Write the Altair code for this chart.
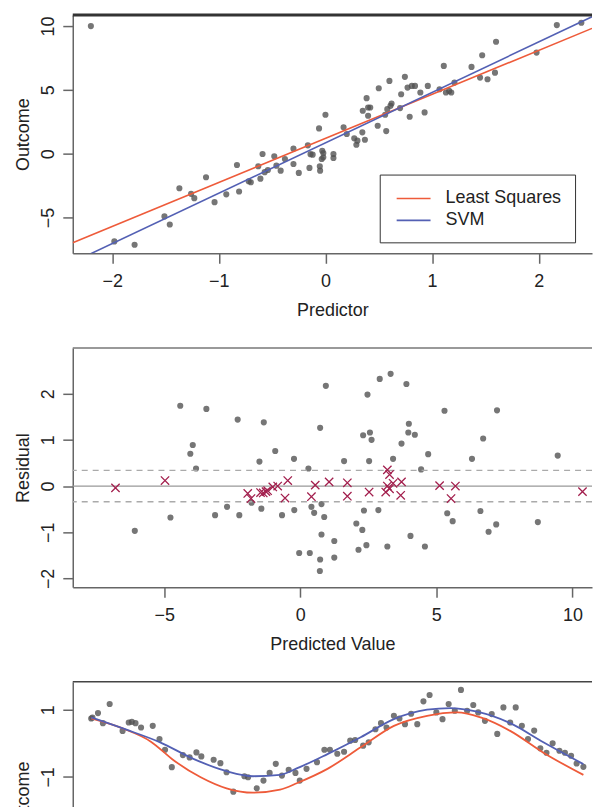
import altair as alt
import pandas as pd

FONT = "Liberation Sans"
GRAY = "#505050"
RED = "#EE5B3A"
BLUE = "#5360B4"
CRIMSON = "#A3204E"
TXT = "#222222"

# ---------------- Panel 1: predictor vs outcome ----------------
p1_x = [-2.20, -1.98, -1.79, -1.51, -1.46, -1.37, -1.26, -1.23, -1.12, -1.04,
        -0.93, -0.83, -0.81, -0.72, -0.70, -0.63, -0.61, -0.59, -0.57, -0.54,
        -0.48, -0.46, -0.42, -0.38, -0.30, -0.30, -0.25, -0.165, -0.15, -0.14,
        -0.12, -0.06, -0.053, -0.05, -0.035, -0.02, 0.0,
        -0.03, -0.02, 0.075, 0.075, 0.17, 0.20, 0.27, 0.29, 0.30, 0.346,
        0.35, 0.37, 0.386, 0.40, 0.42, 0.40, 0.49, 0.50, 0.56, 0.57,
        0.58, 0.60, 0.61, 0.62, 0.70, 0.71, 0.745, 0.77, 0.79, 0.81,
        0.84, 0.89, 0.93, 0.96, 1.07, 1.11, 1.13, 1.16, 1.18, 1.21,
        1.37, 1.45, 1.47, 1.52, 1.59, 1.60, 1.98, 2.17, 2.40]
p1_y = [10.0, -6.88, -7.14, -4.92, -5.55, -2.71, -3.15, -3.49, -1.85, -3.80,
        -3.19, -0.89, -2.97, -2.16, -2.24, -0.99, -1.96, -0.03, -1.45, -1.28,
        -0.21, -0.94, -1.33, -0.42, 0.39, -0.81, -1.51, 0.65, -1.12, -0.04,
        -0.08, 1.98, -0.99, -1.33, -0.42, 0.05, 3.05,
        0.23, -0.29, -0.03, -0.34, 2.06, 1.54, 1.20, 0.70, 1.02, 1.67,
        3.36, 1.09, 4.35, 3.62, 3.62, 2.97, 2.19, 5.13, 3.05, 1.77,
        3.49, 5.70, 3.75, 3.93, 3.57, 4.66, 6.02, 5.18, 2.89, 5.31,
        5.31, 4.79, 3.23, 5.31, 5.05, 6.88, 4.79, 4.92, 4.79, 5.57,
        6.80, 5.96, 7.71, 5.83, 6.35, 8.77, 7.92, 10.08, 10.26]

fit_models = ["Least Squares", "SVM"]
ls_x = [-2.37, 2.50]
ls_y = [-6.98, 9.82]
svm_x = [-2.37, 2.50]
svm_y = [-8.51, 10.73]

# ---------------- Panel 2: residuals ----------------
res_x = [-6.08, -4.77, -4.41, -4.04, -3.95, -3.83, -3.45, -3.13, -2.69, -2.30,
         -2.24, -1.79, -1.50, -1.43, -1.34, -0.92, -0.67, -0.23, -0.22, -0.04,
         0.30, 0.35, 0.41, 0.51, 0.73, 0.78, 0.88, 0.78, 0.73, 0.72,
         0.94, 1.25, 1.25, 1.61, 2.06, 2.14, 2.28, 2.31, 2.34, 2.43,
         2.47, 2.53, 2.56, 2.62, 2.87, 2.92, 3.20, 3.32, 3.41, 3.72,
         3.90, 3.99, 3.97, 4.05, 4.21, 4.44, 4.58, 4.70, 5.30, 5.40,
         5.60, 6.31, 6.62, 6.72, 6.92, 7.23, 7.20, 8.73, 9.46]
res_y = [-0.97, -0.68, 1.74, 0.70, 0.89, 0.38, 1.67, -0.63, -0.45, 1.44,
         -0.63, -0.36, 0.53, -0.49, 1.38, 0.76, -0.63, 0.59, -0.52, -1.45,
         0.38, -1.45, -0.45, -0.58, 1.26, -0.39, -0.67, -1.05, -1.59, -1.84,
         2.17, -1.19, -1.55, 0.54, -0.81, -1.38, -0.95, 1.10, -0.53, -1.28,
         1.98, 0.54, 1.16, 1.00, -0.52, 2.32, -1.31, 2.43, 0.59, 0.92,
         2.21, 1.35, 1.16, -1.08, 1.11, 0.36, -1.31, 0.69, 1.63, -0.59,
         -0.76, 0.59, -0.54, 1.03, -0.99, 1.64, -0.83, -0.78, 0.66]
sv_x = [-6.79, -4.97, -1.93, -1.81, -1.46, -1.36, -1.26, -1.20, -1.01, -0.83,
        -0.46, -0.56, 0.41, 0.55, 1.06, 1.73, 1.73, 2.53, 3.20, 3.28,
        3.20, 3.14, 3.28, 3.41, 3.72, 3.69, 5.12, 5.70, 5.54, 10.37]
sv_y = [-0.04, 0.12, -0.16, -0.27, -0.14, -0.15, -0.12, -0.10, -0.02, 0.0,
        0.12, -0.26, -0.23, 0.02, 0.09, 0.07, -0.22, -0.13, 0.35, 0.25,
        0.0, -0.13, -0.06, 0.06, 0.09, -0.20, 0.01, 0.0, -0.27, -0.12]
epsilon_band = [-0.34, 0.34]
zero_line = [0.0]

# ---------------- Panel 3: sine data ----------------
sin_x = [2.00, 2.02, 2.11, 2.19, 2.30, 2.51, 2.61, 2.66, 2.72, 2.81,
         3.00, 3.11, 3.20, 3.31, 3.49, 3.60, 3.71, 3.79, 3.99, 4.10,
         4.20, 4.31, 4.49, 4.55, 4.69, 4.80, 4.90, 5.00, 5.10, 5.21,
         5.32, 5.39, 5.50, 5.67, 5.79, 5.88, 6.00, 6.11, 6.21, 6.29,
         6.42, 6.51, 6.62, 6.71, 6.80, 6.92, 7.01, 7.10, 7.20, 7.30,
         7.40, 7.50, 7.61, 7.71, 7.81, 7.91, 8.01, 8.11, 8.21, 8.29,
         8.40, 8.51, 8.60, 8.70, 8.81, 8.90, 9.00, 9.10, 9.20, 9.30,
         9.40, 9.50, 9.61, 9.70, 9.80, 9.89, 10.00]
sin_y = [0.74, 0.77, 0.90, 0.60, 1.17, 0.37, 0.62, 0.64, 0.60, 0.47,
         0.52, 0.13, -0.19, -0.71, -0.35, -0.42, -0.27, -0.39, -0.49, -0.59,
         -0.86, -1.44, -0.98, -1.01, -1.34, -1.11, -0.88, -0.61, -0.96, -0.79,
         -0.88, -1.11, -0.76, -0.56, -0.19, -0.19, -0.31, -0.25, 0.08, 0.10,
         -0.07, 0.03, 0.42, 0.60, 0.47, 0.82, 0.74, 0.57, 0.88, 0.57,
         1.25, 1.44, 0.92, 0.72, 1.17, 0.97, 1.59, 0.97, 1.14, 0.92,
         0.67, 0.87, 0.28, 1.07, 0.62, 1.07, 0.52, 0.13, 0.38, -0.15,
         -0.28, 0.0, -0.22, -0.28, -0.37, -0.60, -0.70]
svm_curve_x = [2.0, 2.55, 3.12, 3.67, 4.2, 4.63, 5.07, 5.35, 5.84, 6.38,
               6.92, 7.46, 7.84, 8.27, 8.81, 9.35, 10.0]
svm_curve_y = [0.77, 0.42, 0.03, -0.47, -0.83, -0.98, -0.94, -0.74, -0.32, 0.18,
               0.72, 1.0, 1.05, 0.94, 0.60, 0.03, -0.62]
ls_curve_x = [2.0, 2.5, 2.97, 3.35, 3.78, 4.2, 4.63, 5.07, 5.35, 5.84,
              6.38, 6.92, 7.46, 7.95, 8.33, 8.81, 9.35, 10.0]
ls_curve_y = [0.74, 0.45, 0.05, -0.52, -1.01, -1.34, -1.47, -1.38, -1.18, -0.76,
              -0.12, 0.52, 0.82, 0.92, 0.77, 0.37, -0.28, -0.94]

# ---------------- tables ----------------
df1 = pd.DataFrame({"x": p1_x, "y": p1_y})
df1l = pd.DataFrame({
    "x": ls_x + svm_x,
    "y": ls_y + svm_y,
    "model": [fit_models[0]] * len(ls_x) + [fit_models[1]] * len(svm_x),
})
df2 = pd.DataFrame({"x": res_x, "y": res_y})
df2sv = pd.DataFrame({"x": sv_x, "y": sv_y})
df2eps = pd.DataFrame({"y": epsilon_band})
df2zero = pd.DataFrame({"y": zero_line})
df3 = pd.DataFrame({"x": sin_x, "y": sin_y})
df3svm = pd.DataFrame({"x": svm_curve_x, "y": svm_curve_y})
df3ls = pd.DataFrame({"x": ls_curve_x, "y": ls_curve_y})

W = 521
H1, H2, H3 = 239, 240, 232
PT = 38


def frame(color, sw):
    return alt.Chart(pd.DataFrame({"f": [0]})).mark_rule(
        color=color, strokeWidth=sw
    ).encode(x=alt.value(0), x2=alt.value(W), y=alt.value(0))


def sc(lo, hi):
    return alt.Scale(domain=[lo, hi], nice=False, zero=False)


# ---- panel 1 ----
xs1 = sc(-2.37, 2.50)
ys1 = sc(-7.81, 10.86)
pts1 = alt.Chart(df1).mark_circle(size=PT, color=GRAY, opacity=0.78, clip=True).encode(
    x=alt.X("x:Q", scale=xs1, axis=alt.Axis(values=[-2, -1, 0, 1, 2], title="Predictor", format="d")),
    y=alt.Y("y:Q", scale=ys1, axis=alt.Axis(values=[-5, 0, 5, 10], title="Outcome", format="d")),
)
lines1 = alt.Chart(df1l).mark_line(strokeWidth=1.6, clip=True).encode(
    x=alt.X("x:Q", scale=xs1),
    y=alt.Y("y:Q", scale=ys1),
    color=alt.Color(
        "model:N",
        scale=alt.Scale(domain=fit_models, range=[RED, BLUE]),
        legend=alt.Legend(
            title=None, orient="none", legendX=308, legendY=160,
            symbolType="M-1.7,0H1.7", symbolSize=400, symbolStrokeWidth=1.6,
            symbolOffset=10, labelOffset=21, padding=13, rowPadding=2,
            labelFontSize=18, labelFont=FONT, labelColor=TXT,
            strokeColor="#333333", fillColor="white",
        ),
    ),
)
panel1 = alt.layer(pts1, lines1, frame("#333333", 3)).properties(width=W, height=H1)

# ---- panel 2 ----
xs2 = sc(-8.36, 10.72)
ys2 = sc(-2.19, 2.99)
zero2 = alt.Chart(df2zero).mark_rule(color="#999999", strokeWidth=1.3).encode(
    y=alt.Y("y:Q", scale=ys2))
eps2 = alt.Chart(df2eps).mark_rule(color="#AAAAAA", strokeWidth=1.3, strokeDash=[6, 5]).encode(
    y=alt.Y("y:Q", scale=ys2))
pts2 = alt.Chart(df2).mark_circle(size=PT, color=GRAY, opacity=0.78, clip=True).encode(
    x=alt.X("x:Q", scale=xs2, axis=alt.Axis(values=[-5, 0, 5, 10], title="Predicted Value", format="d")),
    y=alt.Y("y:Q", scale=ys2, axis=alt.Axis(values=[-2, -1, 0, 1, 2], title="Residual", format="d")),
)
sv2 = alt.Chart(df2sv).mark_point(
    shape="M-1,-1L1,1M-1,1L1,-1", size=70, filled=False, color=CRIMSON,
    strokeWidth=1.3, opacity=1, clip=True,
).encode(x=alt.X("x:Q", scale=xs2), y=alt.Y("y:Q", scale=ys2))
panel2 = alt.layer(pts2, zero2, eps2, sv2, frame("#777777", 1.5)).properties(width=W, height=H2)

# ---- panel 3 ----
xs3 = sc(1.70, 10.14)
ys3 = sc(1.83 - H3 / 33.7, 1.83)
pts3 = alt.Chart(df3).mark_circle(size=PT, color=GRAY, opacity=0.78, clip=True).encode(
    x=alt.X("x:Q", scale=xs3, axis=alt.Axis(values=[2, 4, 6, 8], title="Predictor", format="d")),
    y=alt.Y("y:Q", scale=ys3, axis=alt.Axis(
        values=[-5, -4, -3, -2, -1, 0, 1], title="Outcome", format="d",
        labelExpr="datum.value % 2 != 0 ? datum.label : ''")),
)
svm3 = alt.Chart(df3svm).mark_line(color=BLUE, strokeWidth=1.8, interpolate="monotone", clip=True).encode(
    x=alt.X("x:Q", scale=xs3), y=alt.Y("y:Q", scale=ys3))
ls3 = alt.Chart(df3ls).mark_line(color=RED, strokeWidth=1.8, interpolate="monotone", clip=True).encode(
    x=alt.X("x:Q", scale=xs3), y=alt.Y("y:Q", scale=ys3))
panel3 = alt.layer(pts3, ls3, svm3, frame("#444444", 1.5)).properties(width=W, height=H3)

chart = alt.vconcat(panel1, panel2, panel3, spacing=27).resolve_scale(
    x="independent", y="independent", color="independent"
).resolve_legend(color="independent").properties(
    padding={"left": 14, "top": 11.5, "right": 0, "bottom": 0},
    background="white",
).configure_view(stroke=None).configure_axis(
    labelFont=FONT, titleFont=FONT, labelFontSize=18, titleFontSize=18,
    titleFontWeight="normal", labelColor=TXT, titleColor=TXT,
    domainColor="#666666", domainWidth=1.5, tickColor="#666666", tickWidth=1.5,
    tickSize=10, grid=False, labelFlush=False, labelOverlap=False,
).configure_axisX(
    labelPadding=9.5, titleY=62.7, titleBaseline="alphabetic",
).configure_axisY(
    labelAngle=270, labelAlign="center", labelBaseline="alphabetic", labelPadding=9,
    titleAngle=270, titleX=-44.5, titleBaseline="alphabetic", titleAlign="center",
)

chart.save("out.html", embed_options={"renderer": "svg", "actions": False})
